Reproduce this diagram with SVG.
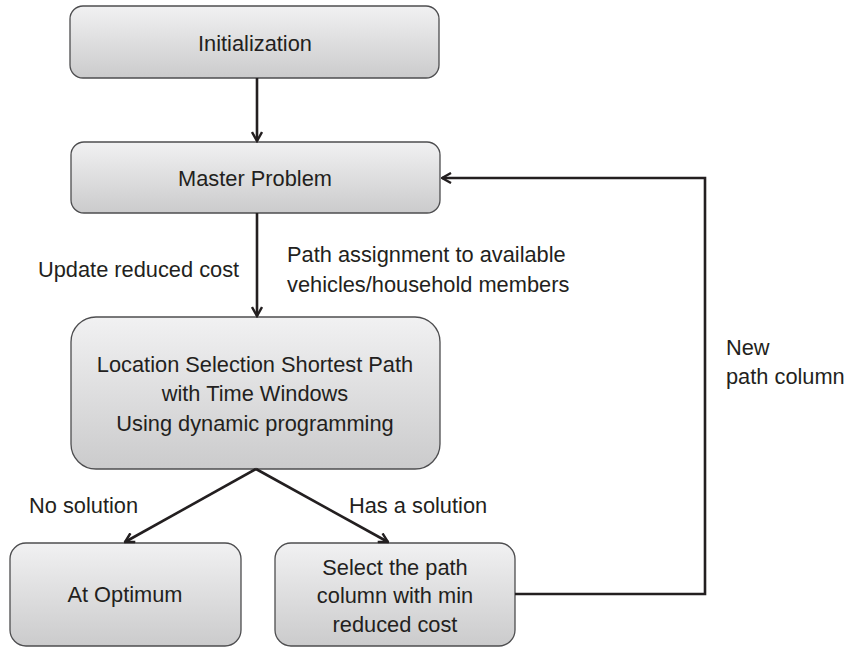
<svg xmlns="http://www.w3.org/2000/svg" width="849" height="649" viewBox="0 0 849 649">
<defs>
<linearGradient id="g" x1="0" y1="0" x2="0" y2="1">
<stop offset="0" stop-color="#f1f1f2"/>
<stop offset="1" stop-color="#cbcbcc"/>
</linearGradient>
<marker id="ah" viewBox="0 0 12 12" refX="10.5" refY="6" markerWidth="12" markerHeight="12" markerUnits="userSpaceOnUse" orient="auto">
<path d="M1.5,1 L10.5,6 L1.5,11" fill="none" stroke="#231f20" stroke-width="2.4" stroke-linejoin="miter"/>
</marker>
</defs>
<style>
.box{fill:url(#g);stroke:#4d4d4f;stroke-width:1.3}
.t{font-family:"Liberation Sans",Arial,sans-serif;font-size:21.8px;fill:#231f20}
.c{text-anchor:middle}
.ln{fill:none;stroke:#231f20;stroke-width:2.6}
</style>
<rect width="849" height="649" fill="#ffffff"/>
<g id="init">
<rect class="box" x="70" y="6" width="369" height="72" rx="13"/>
<text class="t c" x="255" y="51">Initialization</text>
</g>
<g id="master">
<rect class="box" x="71" y="142" width="369" height="71" rx="13"/>
<text class="t c" x="255" y="186">Master Problem</text>
</g>
<g id="lsspt">
<rect class="box" x="71" y="317" width="369" height="152" rx="25"/>
<text class="t c" x="255" y="372">Location Selection Shortest Path</text>
<text class="t c" x="255" y="401">with Time Windows</text>
<text class="t c" x="255" y="431">Using dynamic programming</text>
</g>
<g id="optimum">
<rect class="box" x="10" y="543" width="231" height="103" rx="16"/>
<text class="t c" x="125" y="602">At Optimum</text>
</g>
<g id="select">
<rect class="box" x="275" y="543" width="240" height="103" rx="16"/>
<text class="t c" x="395" y="575">Select the path</text>
<text class="t c" x="395" y="603">column with min</text>
<text class="t c" x="395" y="632">reduced cost</text>
</g>
<g id="connectors">
<line class="ln" x1="257" y1="78" x2="257" y2="141" marker-end="url(#ah)"/>
<line class="ln" x1="257" y1="213" x2="257" y2="316" marker-end="url(#ah)"/>
<polyline class="ln" points="256,469 125,542" marker-end="url(#ah)"/>
<polyline class="ln" points="256,469 388,542" marker-end="url(#ah)"/>
<polyline class="ln" points="515,594 705,594 705,178 442,178" marker-end="url(#ah)"/>
</g>
<g id="labels">
<text class="t" x="38" y="277">Update reduced cost</text>
<text class="t" x="287" y="262">Path assignment to available</text>
<text class="t" x="287" y="292">vehicles/household members</text>
<text class="t" x="726" y="355">New</text>
<text class="t" x="726" y="384">path column</text>
<text class="t" x="29" y="513">No solution</text>
<text class="t" x="349" y="513">Has a solution</text>
</g>
</svg>
